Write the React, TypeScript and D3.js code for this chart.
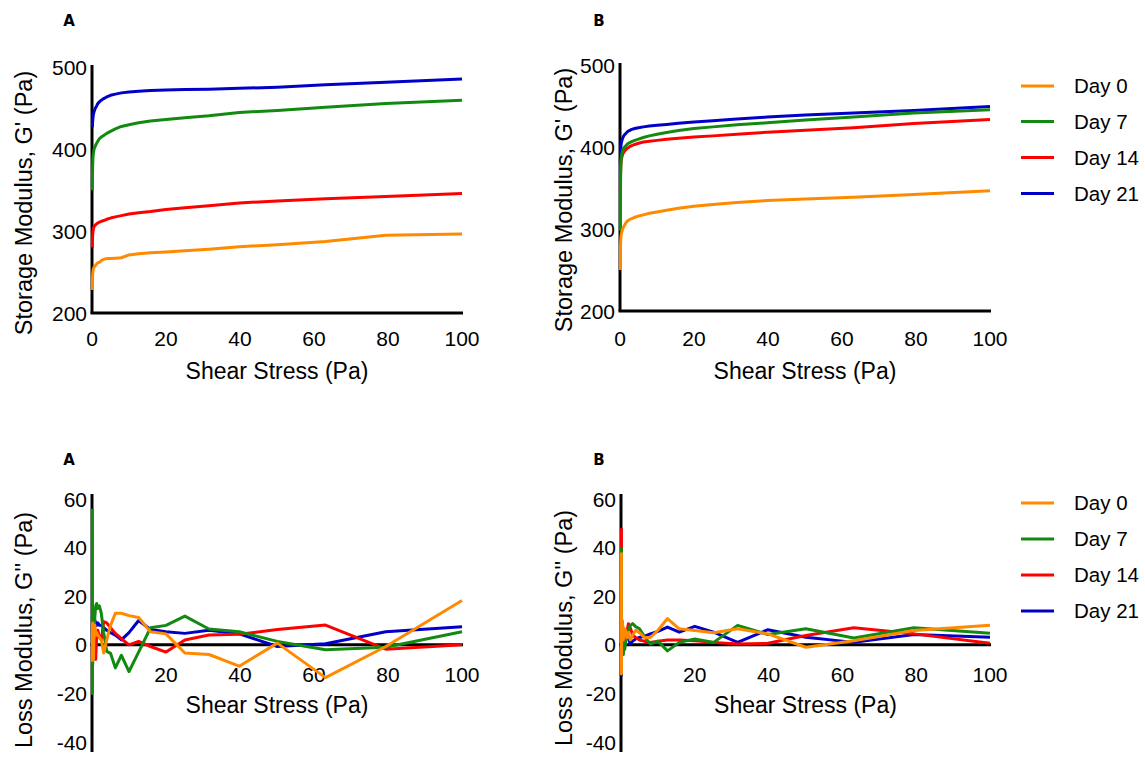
import React from "react";
import * as d3 from "d3";

// Shear stress (Pa), log-spaced measurement points
const shearStress = [0.1, 0.126, 0.158, 0.2, 0.251, 0.316, 0.398, 0.501, 0.631, 0.794, 1, 1.26, 1.58, 2, 2.51, 3.16, 3.98, 5.01, 6.31, 7.94, 10, 12.6, 15.8, 20, 25.1, 31.6, 39.8, 50.1, 63.1, 79.4, 100];

const days = ["Day 0", "Day 7", "Day 14", "Day 21"];
const dayColors = ["#ff8a00", "#128a12", "#ff0000", "#0000c8"];

// Panel A – Storage modulus G' (Pa)
const storageA_day0 = [228, 238, 244, 248, 251, 253, 254.5, 255.5, 256.5, 257.5, 258.5, 260, 261.5, 262, 264, 265.5, 266.5, 266.5, 267, 267.5, 271, 272.5, 273.5, 274.5, 276, 278, 281, 283.5, 287.5, 295, 296.5];
const storageA_day7 = [350, 365, 375, 383, 389, 393, 396, 399, 401, 403, 405, 407.5, 410, 413, 415, 417, 419.5, 422, 425, 428, 430, 432.5, 434.5, 436.5, 438.5, 441, 445, 447.5, 451.5, 456, 460];
const storageA_day14 = [280, 287, 292, 296, 299, 301, 303, 305, 306, 307, 308, 309, 310, 311, 312, 313, 314.5, 316, 317.5, 319, 321, 322.5, 324, 326.5, 328.5, 331, 334.5, 337, 339.5, 342.5, 346];
const storageA_day21 = [427, 430, 433, 436, 438, 441, 443, 445, 447, 449, 451, 453, 456, 458, 460, 462, 464, 466, 467.5, 469, 470, 471, 472, 472.5, 473, 473.5, 474.5, 476, 479, 482, 486];

// Panel B – Storage modulus G' (Pa)
const storageB_day0 = [250, 275, 283, 287, 290, 293, 295, 297, 299, 301, 303, 305, 307.5, 310, 311.5, 313, 314.5, 316, 317.5, 319.5, 321, 323, 325.5, 328, 330, 332.5, 335, 337, 339, 342.5, 347];
const storageB_day7 = [298, 340, 360, 372, 380, 385, 389, 392, 395, 397, 399, 400.5, 402, 404, 405.5, 407, 408.5, 410, 412, 414, 416, 418, 420.5, 423, 425, 427.5, 430, 433.5, 437, 442, 446];
const storageB_day14 = [345, 360, 370, 376, 380, 383, 386, 388, 390, 392, 394, 395.5, 397, 399, 400.5, 402, 403.5, 405, 406.5, 407.5, 408.5, 410, 411, 412.5, 414, 416, 418.5, 421, 424, 429, 434];
const storageB_day21 = [380, 388, 394, 398, 401, 404, 406, 408, 410, 412, 414, 415.5, 417, 419, 420.5, 422, 423, 424, 425, 426, 427, 428, 429.5, 431, 432.5, 434.5, 437, 439.5, 442, 445, 450];

// Panel A – Loss modulus G'' (Pa)
const lossA_day0 = [-7, 8, -5, 9, 3, 7, -6, 2, 5, 8, 4, 5, 4, 3, 2, -3.4, 2, 8, 13, 13, 12, 11.2, 5.4, 4.5, -3.4, -4, -8.8, 0.7, -13.5, -0.7, 18.2];
const lossA_day7 = [56, -20, 5, -8, 3, -4, 6, 2, 8, 12, 16, 17, 15, 16, 13, 5, -2.7, -3.5, -9.5, -4.3, -11, -3, 7, 8, 11.8, 6.5, 5.4, 1.4, -2, -1, 5.4];
const lossA_day14 = [0, -6, 5, -3, 6, -2, 4, -5, 2, -3, -6, 4, 6, 3, 2, 9.5, 9, 7, 4.7, 2.5, 0, 1.4, -0.7, -3, 2, 4, 4.3, 6.3, 8.1, -1.8, 0];
const lossA_day21 = [5, 10, 7, 11, 8, 10, 9, 11, 9, 10, 9, 8, 9, 8, 8, 7, 6, 5, 4, 2, 5, 10, 6.3, 5.4, 4.7, 6, 4.5, -0.7, 0.4, 5.4, 7.4];

// Panel B – Loss modulus G'' (Pa)
const lossB_day0 = [38, -12, 12, 2, 8, 3, 10, 5, 2, 7, 4, 6, 3, 5, 2, 4, 6, 5, 3, 3, 6, 10.8, 6.6, 5.9, 5, 6.6, 4.5, -1, 1.7, 5.9, 8];
const lossB_day7 = [40, -4, 6, 1, 5, -2, 3, 0, -4, -1, -2, 1, 4, 6, 8, 8.7, 7.5, 6.6, 3.5, 0.3, 1.5, -2.5, 1, 2.4, 1, 8, 4.2, 6.6, 2.8, 7, 4.8];
const lossB_day14 = [48, -5, 10, 3, 6, 0, 4, 7, 2, 5, 3, 2, 5, 8.7, 7, 4, 3, 2, 1.5, 1, 1.5, 2, 2, 1.7, 1, 0.3, 0.6, 3.8, 7, 4.5, 0.6];
const lossB_day21 = [-13, 5, -3, 6, 2, 4, 1, 5, 3, 6, 4, 2, 5, 3, 0.3, 1.5, 2.4, 3, 3.5, 4.5, 5.5, 7.3, 5.2, 7.6, 5.2, 1, 6.2, 3.1, 1, 4.2, 3.1];

const storageYTicks = [200, 300, 400, 500];
const storageXTicks = [0, 20, 40, 60, 80, 100];
const lossYTicks = [-40, -20, 0, 20, 40, 60];
const lossXTicks = [20, 40, 60, 80, 100];

const FONT = "'Liberation Sans', Arial, sans-serif";

type PanelProps = {
  x0: number; x1: number; yTop: number; yBot: number;
  yDomain: [number, number];
  series: number[][];
  kind: "storage" | "loss";
  axisTop: number; axisBot: number;
  labelX: number; labelY: number;
  yLabel: string;
};

function Panel(p: PanelProps) {
  const x = d3.scaleLinear().domain([0, 100]).range([p.x0, p.x1]);
  const y = d3.scaleLinear().domain(p.yDomain).range([p.yBot, p.yTop]);
  const line = d3.line<number>()
    .x((_, i) => x(shearStress[i]))
    .y((d) => y(d));
  const isStorage = p.kind === "storage";
  const baseY = isStorage ? y(p.yDomain[0]) : y(0);
  const yTicks = isStorage ? storageYTicks : lossYTicks;
  const xTicks = isStorage ? storageXTicks : lossXTicks;
  const xTickBaseline = isStorage ? 346 : 682;
  const xLabelBaseline = isStorage ? 379 : 713;
  // draw order: Day 21, Day 14, Day 7, Day 0 (Day 0 on top)
  const order = [3, 2, 1, 0];
  return (
    <g>
      <line x1={p.x0} x2={p.x0} y1={p.axisTop} y2={p.axisBot} stroke="#000" strokeWidth={3} />
      <line x1={p.x0 - 1.5} x2={p.x1 + 1} y1={baseY} y2={baseY} stroke="#000" strokeWidth={3} />
      {yTicks.map((t) => (
        <text key={"y" + t} x={p.x0 - 5} y={y(t)} dy="0.36em" textAnchor="end" fontSize={21} fontFamily={FONT} fill="#000">{t}</text>
      ))}
      {xTicks.map((t) => (
        <text key={"x" + t} x={x(t)} y={xTickBaseline} textAnchor="middle" fontSize={21} fontFamily={FONT} fill="#000">{t}</text>
      ))}
      <text x={(p.x0 + p.x1) / 2} y={xLabelBaseline} textAnchor="middle" fontSize={23} fontFamily={FONT} fill="#000">Shear Stress (Pa)</text>
      <text transform={`translate(${p.labelX},${p.labelY}) rotate(-90)`} textAnchor="middle" fontSize={23.5} fontFamily={FONT} fill="#000">{p.yLabel}</text>
      {order.map((k) => (
        <path key={k} d={line(p.series[k]) || ""} fill="none" stroke={dayColors[k]} strokeWidth={3} strokeLinejoin="round" />
      ))}
    </g>
  );
}

function Legend({ rows }: { rows: number[] }) {
  return (
    <g>
      {days.map((d, i) => (
        <g key={d}>
          <line x1={1021} x2={1054} y1={rows[i]} y2={rows[i]} stroke={dayColors[i]} strokeWidth={3} />
          <text x={1074} y={rows[i]} dy="0.36em" fontSize={20.5} fontFamily={FONT} fill="#000">{d}</text>
        </g>
      ))}
    </g>
  );
}

export default function App() {
  const panelLetter = { fontSize: 15, fontFamily: "'DejaVu Sans', sans-serif", fontWeight: 700 as const };
  return (
    <svg width={1145} height={758} style={{ position: "absolute", left: 0, top: 0, background: "#fff" }}>
      <rect x={0} y={0} width={1145} height={758} fill="#fff" />
      <text x={69} y={26} textAnchor="middle" {...panelLetter}>A</text>
      <text x={599} y={26} textAnchor="middle" {...panelLetter}>B</text>
      <text x={69} y={465} textAnchor="middle" {...panelLetter}>A</text>
      <text x={599} y={465} textAnchor="middle" {...panelLetter}>B</text>

      <Panel x0={92} x1={462} yTop={67.5} yBot={313} yDomain={[200, 500]} kind="storage"
        series={[storageA_day0, storageA_day7, storageA_day14, storageA_day21]}
        axisTop={65} axisBot={313} labelX={32} labelY={203} yLabel="Storage Modulus, G' (Pa)" />
      <Panel x0={620} x1={990} yTop={65.5} yBot={311} yDomain={[200, 500]} kind="storage"
        series={[storageB_day0, storageB_day7, storageB_day14, storageB_day21]}
        axisTop={63} axisBot={311} labelX={572} labelY={200} yLabel="Storage Modulus, G' (Pa)" />
      <Panel x0={92} x1={462} yTop={499} yBot={742} yDomain={[-40, 60]} kind="loss"
        series={[lossA_day0, lossA_day7, lossA_day14, lossA_day21]}
        axisTop={494} axisBot={752} labelX={32} labelY={630} yLabel="Loss Modulus, G'' (Pa)" />
      <Panel x0={621} x1={990} yTop={499} yBot={742} yDomain={[-40, 60]} kind="loss"
        series={[lossB_day0, lossB_day7, lossB_day14, lossB_day21]}
        axisTop={494} axisBot={752} labelX={572} labelY={628} yLabel="Loss Modulus, G'' (Pa)" />

      <Legend rows={[86, 121.5, 157.5, 193.5]} />
      <Legend rows={[503, 539, 575, 611]} />
    </svg>
  );
}
